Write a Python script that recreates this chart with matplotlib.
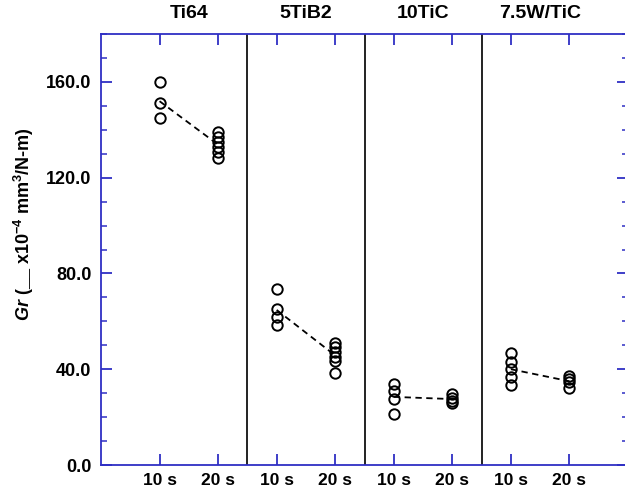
import matplotlib.pyplot as plt
import numpy as np

plt.rcParams['font.family'] = ['Liberation Sans', 'DejaVu Sans']
plt.rcParams['font.weight'] = 'bold'
plt.rcParams['mathtext.fontset'] = 'custom'
plt.rcParams['mathtext.rm'] = 'Liberation Sans:bold'
plt.rcParams['mathtext.it'] = 'Liberation Sans:italic:bold'
plt.rcParams['mathtext.bf'] = 'Liberation Sans:bold'

# materials and loading times
materials = ["Ti64", "5TiB2", "10TiC", "7.5W/TiC"]
times = ["10 s", "20 s"]

# Gr values (x10^-4 mm^3/N-m)
gr_10s = [
    [160.0, 151.0, 144.8],
    [73.5, 65.0, 62.0, 58.5],
    [34.0, 31.0, 27.5, 21.3],
    [46.8, 43.2, 40.0, 36.6, 33.4],
]
gr_20s = [
    [139.0, 137.0, 135.0, 132.8, 130.7, 128.2],
    [51.0, 49.3, 47.2, 45.1, 43.4, 38.4],
    [29.5, 28.0, 26.8, 25.8],
    [37.0, 35.8, 34.8, 32.3],
]

blue = '#2f2fc4'

fig = plt.figure(figsize=(6.25, 4.95), dpi=100)
ax = fig.add_axes([101/625, 30/495, 527/625, 431/495])

for i, mat in enumerate(materials):
    x10 = 2 * i + 1
    x20 = 2 * i + 2
    ax.plot([x10] * len(gr_10s[i]), gr_10s[i], 'o', mfc='none', mec='black',
            ms=7.5, mew=1.4, zorder=3)
    ax.plot([x20] * len(gr_20s[i]), gr_20s[i], 'o', mfc='none', mec='black',
            ms=7.5, mew=1.4, zorder=3)
    ax.plot([x10, x20], [np.mean(gr_10s[i]), np.mean(gr_20s[i])],
            color='black', lw=1.3, ls=(0, (3.5, 2.5)), zorder=2)
    ax.text(2 * i + 1.5, 1.048, mat, transform=ax.get_xaxis_transform(),
            ha='center', va='center', fontsize=14, fontweight='bold')
    if i > 0:
        ax.axvline(2 * i + 0.5, color='#222222', lw=1.4, zorder=1)

ax.set_xlim(0, 9)
ax.set_ylim(0, 180)

xpos = np.arange(1, 9)
ax.set_xticks(xpos)
ax.set_xticklabels(times * 4)
ax.set_yticks(np.arange(0, 161, 40))
ax.set_yticklabels(["%.1f" % v for v in np.arange(0, 161, 40)])
ax.set_yticks(np.arange(0, 181, 10), minor=True)

for s in ax.spines.values():
    s.set_color(blue)
    s.set_linewidth(1.3)

ax.tick_params(axis='both', which='both', direction='in', color=blue,
               top=True, right=True)
ax.tick_params(axis='y', which='major', length=8, width=1.3, labelsize=13, pad=7)
ax.tick_params(axis='y', which='minor', length=4, width=1.1)
ax.tick_params(axis='x', which='major', length=8, width=1.3, labelsize=12.5, pad=6)
for lab in ax.get_xticklabels() + ax.get_yticklabels():
    lab.set_fontweight('bold')

fig.text(24/625, 1 - 224/495, r"$\mathit{Gr}$ (__ x10$^{-4}$ mm$^{3}$/N-m)",
         rotation=90, ha='center', va='center', fontsize=13, fontweight='bold')

fig.savefig('out.png', dpi=100)
